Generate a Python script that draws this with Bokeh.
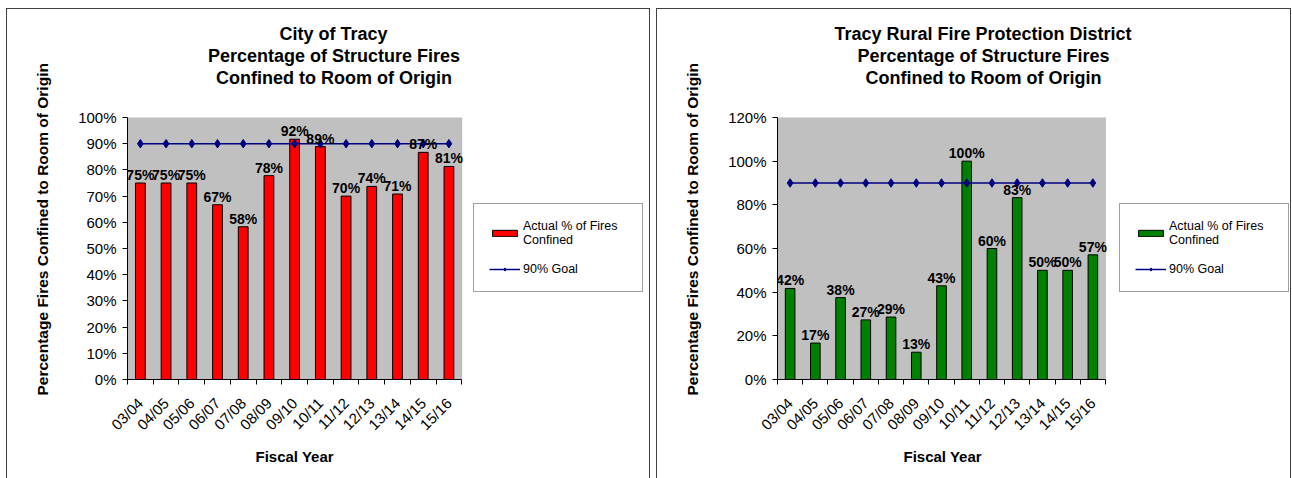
import math
from bokeh.plotting import figure
from bokeh.models import (Range1d, FixedTicker, PrintfTickFormatter, Legend,
                          LegendItem, Title, ColumnDataSource, LinearAxis,
                          BoxAnnotation, Spacer)
from bokeh.layouts import row, column
from bokeh.core.properties import value
from bokeh.embed import file_html
from bokeh.resources import INLINE

# ---------------- data ----------------
years = ["03/04", "04/05", "05/06", "06/07", "07/08", "08/09", "09/10",
         "10/11", "11/12", "12/13", "13/14", "14/15", "15/16"]

city_pct = [75.0, 75.0, 75.0, 66.7, 58.3, 77.8, 91.7, 88.9, 70.0, 73.7, 70.8, 86.7, 81.3]
city_labels = ["75%", "75%", "75%", "67%", "58%", "78%", "92%", "89%", "70%", "74%", "71%", "87%", "81%"]

rural_pct = [41.7, 16.7, 37.5, 27.3, 28.6, 12.5, 42.9, 100.0, 60.0, 83.3, 50.0, 50.0, 57.1]
rural_labels = ["42%", "17%", "38%", "27%", "29%", "13%", "43%", "100%", "60%", "83%", "50%", "50%", "57%"]

goal_pct = [90] * 13

city_yticks = [0, 10, 20, 30, 40, 50, 60, 70, 80, 90, 100]
rural_yticks = [0, 20, 40, 60, 80, 100, 120]

city_title = ["City of Tracy", "Percentage of Structure Fires", "Confined to Room of Origin"]
rural_title = ["Tracy Rural Fire Protection District", "Percentage of Structure Fires",
               "Confined to Room of Origin"]
y_label = "Percentage Fires Confined to Room of Origin"
x_label = "Fiscal Year"
bar_legend = "Actual % of Fires\nConfined"
goal_legend = "90% Goal"

FONT = "Liberation Sans"


def spacer_axis(size):
    return LinearAxis(ticker=FixedTicker(ticks=[0]), axis_line_color=None,
                      major_tick_line_color=None, minor_tick_line_color=None,
                      major_tick_in=0, major_tick_out=size, major_label_standoff=0,
                      major_label_overrides={0: ""},
                      major_label_text_font_size="1px",
                      major_label_text_color=None)


def make_chart(title_lines, title_offsets, vals, labels, bar_color, y_max, y_ticks,
               width, border_left, plot_px, legend_x, ylab_standoff, xlab_offset):
    n = len(years)
    xs = [i + 0.5 for i in range(n)]
    src = ColumnDataSource(dict(x=xs, v=vals, lab=labels, goal=goal_pct))

    border_right = 2
    frame_px = width - 2 - border_left - border_right
    x_end = n * frame_px / plot_px   # empty room on the right holds the legend

    p = figure(width=width, height=470,
               x_range=Range1d(0, x_end), y_range=Range1d(0, y_max),
               output_backend="svg", toolbar_location=None,
               min_border_left=border_left, min_border_right=border_right,
               min_border_top=108, min_border_bottom=100,
               background_fill_color="white", border_fill_color="white",
               outline_line_color=None)
    p.styles = {"border-top": "1px solid #404040",
                "border-left": "1px solid #404040",
                "border-right": "1px solid #404040"}
    p.grid.visible = False

    xa = p.below[0]
    ya = p.left[0]

    # grey plot area
    p.add_layout(BoxAnnotation(left=0, right=n, bottom=0, top=y_max,
                               fill_color="#C0C0C0", fill_alpha=1.0,
                               line_color="#808080", line_width=1,
                               level="underlay"))

    bars = p.vbar(x="x", top="v", width=0.38, source=src,
                  fill_color=bar_color, line_color="black", line_width=1)
    gl = p.line(x="x", y="goal", source=src, line_color="#000080", line_width=1.5)
    gm = p.scatter(x="x", y="goal", source=src, marker="diamond", size=8.5,
                   fill_color="#000080", line_color="#000080")
    p.text(x="x", y="v", text="lab", source=src, text_align="center",
           text_baseline="alphabetic", y_offset=-8,
           text_font=value(FONT), text_font_style="bold",
           text_font_size="14px", text_color="black")

    # title block (spacer between frame and title lines)
    p.add_layout(spacer_axis(30), "above")
    for line, off in reversed(list(zip(title_lines, title_offsets))):
        p.add_layout(Title(text=line, align="left", offset=off,
                           text_font=FONT, text_font_size="18px",
                           text_font_style="bold", text_color="black",
                           standoff=0), "above")

    # y axis
    ya.ticker = FixedTicker(ticks=y_ticks)
    ya.formatter = PrintfTickFormatter(format="%d%%")
    ya.major_tick_in = 0
    ya.major_tick_out = 5
    ya.minor_tick_line_color = None
    ya.axis_line_color = "black"
    ya.major_tick_line_color = "black"
    ya.major_label_text_font = FONT
    ya.major_label_text_font_size = "15px"
    ya.major_label_text_color = "black"
    ya.major_label_standoff = 6

    p.add_layout(Title(text=y_label, align="left", offset=-16,
                       text_font=FONT, text_font_size="15.5px",
                       text_font_style="bold", text_color="black",
                       standoff=ylab_standoff), "left")

    # x axis
    xa.bounds = (0, n)
    xa.ticker = FixedTicker(ticks=xs, minor_ticks=list(range(n + 1)))
    xa.major_label_overrides = {x: y for x, y in zip(xs, years)}
    xa.major_tick_line_color = None
    xa.minor_tick_in = 0
    xa.minor_tick_out = 5
    xa.minor_tick_line_color = "black"
    xa.axis_line_color = "black"
    xa.major_label_orientation = math.pi / 4
    xa.major_label_standoff = 15
    xa.major_label_text_font = FONT
    xa.major_label_text_font_size = "15px"
    xa.major_label_text_color = "black"

    p.add_layout(spacer_axis(3), "below")
    p.add_layout(Title(text=x_label, align="left", offset=xlab_offset,
                       text_font=FONT, text_font_size="15px",
                       text_font_style="bold", text_color="black",
                       standoff=0), "below")

    legend = Legend(items=[LegendItem(label=bar_legend, renderers=[bars]),
                           LegendItem(label=goal_legend, renderers=[gl, gm])],
                    location=(legend_x, 87), margin=0, padding=15, spacing=15,
                    glyph_width=31, glyph_height=8, label_standoff=3,
                    label_width=104,
                    label_text_font=FONT, label_text_font_size="12.5px",
                    label_text_color="black",
                    border_line_color="#404040", border_line_width=1,
                    background_fill_color="white", background_fill_alpha=1.0)
    p.add_layout(legend)
    return p


p1 = make_chart(city_title, [152, 80.5, 88.5], city_pct, city_labels, "#FF0000",
                100, city_yticks, 644, 120, 333, 346, 49, 128)
p2 = make_chart(rural_title, [57, 80, 88], rural_pct, rural_labels, "#008000",
                120, rural_yticks, 635, 118, 328, 342, 49, 126)

layout = column(Spacer(height=8),
                row(Spacer(width=6), p1, Spacer(width=6), p2, spacing=0),
                spacing=0)
open("out.html", "w").write(file_html(layout, INLINE))
